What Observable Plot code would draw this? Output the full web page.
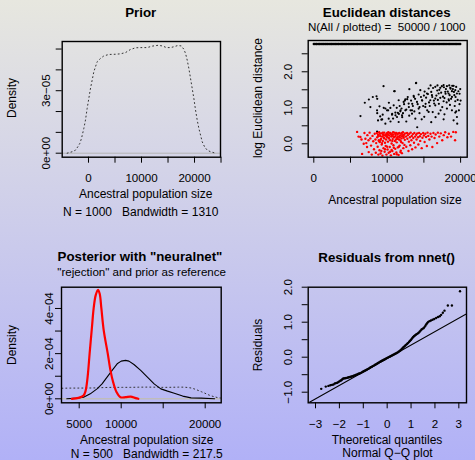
<!DOCTYPE html>
<html><head><meta charset="utf-8">
<script src="https://cdn.jsdelivr.net/npm/d3@7"></script>
<script src="https://cdn.jsdelivr.net/npm/@observablehq/plot@0.6"></script>
<style>
html,body{margin:0;padding:0;}
#chart{position:relative;width:475px;height:460px;overflow:hidden;background:linear-gradient(to bottom,#e7e7df,#b1b1f7);font-family:"Liberation Sans",Arial,sans-serif;color:#000;}
.panel{position:absolute;}
.panel svg{background:transparent !important;overflow:visible;}
.t{position:absolute;white-space:pre;transform:translate(-50%,-50%);line-height:1;}
.r{transform:translate(-50%,-50%) rotate(-90deg);}
.b{font-weight:bold;font-size:13.3px;}
.n{font-size:12px;}
.s{font-size:11.6px;}
</style></head><body><div id="chart"></div>
<script>
// ---------- Panel 1: Prior density ----------
const priorX = [-4025,-3082,-2453,-2013,-1635,-1321,-881,-566,-252,63,377,692,1006,1321,1635,2264,2893,3837,5095,6038,6982,7925,8869,10127,11071,12014,13147,13901,14719,15473,16102,16857,17487,17989,18304,18618,18932,19247,19562,19876,20191,20505,20820,21134,21449,21889,22393,23021,23965];
const priorY = [0,0.07e-5,0.146e-5,0.31e-5,0.47e-5,0.71e-5,1.19e-5,1.59e-5,2.15e-5,2.63e-5,3.11e-5,3.51e-5,3.91e-5,4.15e-5,4.39e-5,4.55e-5,4.67e-5,4.74e-5,4.75e-5,4.77e-5,4.83e-5,4.98e-5,5.06e-5,5.07e-5,5.07e-5,5.14e-5,5.18e-5,5.15e-5,5.07e-5,5.07e-5,5.11e-5,5.17e-5,5.15e-5,4.99e-5,4.79e-5,4.47e-5,4.07e-5,3.59e-5,3.11e-5,2.63e-5,2.07e-5,1.59e-5,1.19e-5,0.87e-5,0.55e-5,0.31e-5,0.146e-5,0.07e-5,0];
const p1XTicks = [0,5000,10000,15000,20000,25000];
const p1XLabels = ["0","","10000","","20000",""];
const p1YTicks = [0,1e-5,2e-5,3e-5,4e-5,5e-5];
const p1YLabels = ["0e+00","","","3e\u221205","",""];

// ---------- Panel 2: Euclidean distances ----------
const topRowY = 2.77;
const topRowX = [0,150,310,420,600,760,880,1050,1200,1330,1500,1640,1790,1920,2080,2230,2400,2520,2690,2850,2980,3140,3300,3420,3590,3760,3900,4030,4200,4350,4480,4660,4800,4950,5090,5240,5400,5530,5700,5850,5980,6150,6300,6440,6600,6740,6900,7050,7190,7340,7500,7650,7780,7950,8100,8240,8400,8550,8690,8850,9000,9140,9300,9450,9590,9750,9900,10040,10200,10350,10490,10650,10800,10940,11100,11250,11390,11550,11700,11840,12000,12150,12290,12450,12600,12740,12900,13050,13190,13350,13500,13640,13800,13950,14090,14250,14400,14540,14700,14850,14990,15150,15300,15440,15600,15750,15890,16050,16200,16340,16500,16650,16790,16950,17100,17240,17400,17550,17690,17850,18000,18140,18300,18450,18590,18750,18900,19040,19200,19350,19490,19650,19800,19950];
const blackPts = [[6360,0.77],[6950,1.14],[7500,1.23],[8040,1.30],[8545,1.32],[8640,1.25],[9500,1.60],[8950,1.04],[8640,0.85],[9045,0.76],[9320,0.68],[10230,1.14],[10130,0.93],[10950,1.46],[10680,0.83],[11130,0.79],[11590,0.83],[11820,0.93],[12045,0.74],[12410,1.20],[12730,1.24],[12950,1.02],[13950,1.69],[13640,1.30],[13410,1.11],[13180,0.93],[14090,0.46],[14410,1.02],[14770,1.20],[15000,1.34],[15230,1.11],[15450,0.93],[15910,1.62],[16140,1.30],[16360,1.20],[16590,0.74],[16820,1.48],[17040,1.11],[17270,0.93],[17730,1.57],[17950,1.39],[18410,1.20],[18640,1.53],[18860,1.61],[19090,1.44],[19320,1.30],[19540,0.56],[19770,0.93],[19860,1.39],[20000,1.20],
[7710,1.02],[9524,1.00],[9751,0.98],[8617,0.93],[9388,0.81],[8753,0.65],[9207,0.67],[9751,0.56],[8617,0.34],
[13922,1.685],[11020,1.462],[13016,1.518],[14512,1.49],[15646,1.536],[16553,1.583],[17233,1.555],[17687,1.63],[18140,1.60],[18594,1.555],[19047,1.61],[19274,1.49],[17913,1.443],[18367,1.397],[18820,1.462],[19500,1.397],[17006,1.397],[16099,1.35],[15419,1.397],[14285,1.369],[13605,1.331],[12471,1.238],[11564,1.21],[12245,1.164],[12925,1.117],[14058,1.164],[14739,1.21],[15873,1.21],[16553,1.257],[17233,1.276],[17687,1.182],[18367,1.238],[18820,1.303],[19274,1.182],[16553,1.07],[15192,1.024],[14285,0.978],[13378,0.931],[12471,0.931],[11791,0.903],[11111,0.866],[10431,0.996],[10657,0.81],[11337,0.745],[12018,0.791],[13378,0.838],[15646,0.884],[17006,0.838],[18140,0.978],[18820,0.931],[19274,0.866],[19500,0.745],[19047,0.652],[17687,0.68],[13832,0.698],[11564,0.605],[10204,0.698],[9977,0.931],[10884,1.07],
[15100,1.45],[15300,1.28],[15550,1.38],[15700,1.15],[15800,1.05],[16000,1.44],[16250,1.55],[16400,1.12],[16700,1.34],[16900,1.22],[17100,1.5],[17350,1.42],[17500,1.02],[17600,1.31],[17800,1.27],[18000,1.52],[18100,1.15],[18250,1.45],[18500,1.35],[18550,1.08],[18700,1.25],[18950,1.52],[19150,1.35],[19200,1.05],[19400,1.58],[19600,1.22],[19700,1.46],[19850,1.1],[19950,1.52],[18450,1.62],[17450,1.6],[16850,1.62],
[11300,1.0],[11450,0.86],[11700,1.05],[11950,0.98],[12150,0.85],[12300,1.1],[12600,0.95],[12800,1.3],[13000,0.78],[13250,1.2],[13500,1.05],[13700,0.9],[13800,1.25],[14150,1.1],[14400,0.85],[14600,1.3],[14900,1.05],[15050,0.75],[10800,0.7],[10450,0.62],[12600,0.62],[16200,0.88],[17800,0.82],[19400,0.9],[14700,0.68],[16000,0.6]];
const redPts = [[5900,0.33],[6100,0.2],[6350,0.19],[6500,0.12],[6580,-0.28],[6800,0.0],[6900,0.3],[7030,0.14],[7150,0.02],[7256,-0.09],[7300,0.24],[7450,0.1],[7483,-0.23],[7600,0.31],[7700,0.15],[7800,-0.05],[7900,-0.3],[8000,0.22],[8100,0.07],[8200,-0.15],[8300,0.28],[8400,0.12],[8450,-0.25],[8500,0.02],
[8600,0.3],[8650,0.18],[8700,-0.08],[8750,0.25],[8800,-0.3],[8850,0.1],[8900,0.32],[8950,-0.18],[9000,0.05],[9050,0.22],[9100,-0.27],[9150,0.14],[9200,0.29],[9250,-0.02],[9300,0.2],[9350,-0.33],[9400,0.08],[9450,0.26],[9500,-0.12],[9550,0.17],[9600,0.31],[9650,-0.22],[9700,0.03],[9750,0.24],[9800,-0.06],[9850,0.12],[9900,-0.3],[9950,0.28],[10000,0.19],[10050,-0.16],[10100,0.06],[10150,0.32],[10200,-0.25],[10250,0.15],[10300,0.23],[10350,-0.09],[10400,0.1],[10450,0.3],[10500,-0.32],[10550,0.2],[10600,0.01],[10650,0.27],[10700,-0.2],[10750,0.13],[10800,0.25],[10850,-0.04],[10900,0.18],[10950,-0.28],[11000,0.31],[11050,0.08],[11100,-0.14],[11150,0.22],[11200,0.29],[11250,-0.24],[11300,0.04],[11350,0.16],[11400,0.26],[11450,-0.1],[11500,0.2],[11550,-0.31],[11600,0.12],[11650,0.3],[11700,-0.05],[11750,0.23],[11800,0.09],[11850,-0.19],[11900,0.28],[11950,0.15],[12000,-0.26],[12050,0.21],[12100,0.02],[12150,0.32],[12200,-0.12],[12250,0.17],[12300,0.25],[12350,-0.03],[12400,0.11],[12450,0.29],
[8800,0.22],[9000,0.28],[9100,0.11],[9300,0.02],[9400,0.31],[9600,0.15],[9700,-0.15],[9900,0.21],[10000,-0.08],[10100,0.25],[10200,0.16],[10400,-0.22],[10500,0.27],[10700,0.08],[10800,0.32],[10900,-0.11],[11000,0.19],[11100,0.27],[11300,-0.29],[11400,0.14],[11500,0.29],[11700,0.18],[11800,-0.23],[11900,0.05],[12000,0.3],[12200,0.2],[9200,-0.2],[9800,0.26],[10300,0.3],[10600,-0.17],[11200,0.12],[11600,-0.08],[12100,0.24],[8900,0.07],[9500,0.23],[10000,0.3],[10650,0.22],[11250,0.3],
[12550,0.2],[12600,-0.08],[12700,0.3],[12750,0.14],[12800,0.24],[12900,-0.2],[12950,0.06],[13000,0.28],[13100,0.18],[13150,-0.04],[13200,0.31],[13300,0.1],[13350,0.22],[13400,-0.15],[13500,0.27],[13550,0.16],[13650,0.03],[13700,0.3],[13800,0.2],[13850,-0.1],[13950,0.25],[14000,0.12],[14100,0.29],[14200,0.18],[14250,-0.02],[14350,0.3],[14450,0.21],[14500,0.08],[14600,0.27],[14700,-0.12],[14800,0.17],[14900,0.3],[15000,0.23],[15100,0.05],[15200,0.28],[15300,0.19],[15400,-0.06],[15500,0.31],
[15600,0.22],[15750,0.12],[15900,0.28],[16050,0.2],[16150,-0.09],[16300,0.3],[16450,0.16],[16600,0.26],[16800,0.02],[16900,0.31],[17100,0.2],[17300,0.29],[17500,0.1],[17700,0.24],[17900,0.32],[18200,0.18],[18400,0.28],[18700,0.2],[19000,0.33],[19250,0.1],[19350,0.32]];
const p2XTicks = [0,5000,10000,15000,20000];
const p2XLabels = ["0","","10000","","20000"];
const p2YTicks = [0,0.5,1,1.5,2,2.5];
const p2YLabels = ["0.0","","1.0","","2.0",""];

// ---------- Panel 3: Posterior ----------
const nnetX = [4120,4920,5520,5760,6000,6240,6520,6720,6960,7240,7440,7640,7920,8400,8720,9040,9440,9920,10520,11120,11720,12040];
const nnetY = [0,0.04e-4,0.15e-4,0.35e-4,0.96e-4,2.0e-4,3.18e-4,4.0e-4,4.58e-4,4.83e-4,4.65e-4,4.0e-4,3.03e-4,2.0e-4,1.26e-4,0.74e-4,0.3e-4,0.07e-4,0.07e-4,0.1e-4,0.03e-4,0];
const rejX = [3520,4720,5520,6320,7120,7720,8320,8920,9520,10000,10520,10920,11520,12320,13120,13920,14720,15520,16320,17320,18320,19520,21120];
const rejY = [0,0.03e-4,0.07e-4,0.22e-4,0.44e-4,0.66e-4,0.96e-4,1.26e-4,1.55e-4,1.67e-4,1.70e-4,1.67e-4,1.52e-4,1.26e-4,0.96e-4,0.66e-4,0.44e-4,0.34e-4,0.25e-4,0.12e-4,0.04e-4,0.03e-4,0];
const p3XTicks = [5000,10000,15000,20000];
const p3XLabels = ["5000","10000","","20000"];
const p3YTicks = [0,1e-4,2e-4,3e-4,4e-4];
const p3YLabels = ["0e+00","","2e\u221204","","4e\u221204"];

// ---------- Panel 4: Residuals Q-Q ----------
const qqPts = [[-2.76,-0.905],[-2.57,-0.84],[-2.46,-0.82],[-2.38,-0.80],[-2.31,-0.79],[-2.25,-0.78],[-2.19,-0.75],[-2.14,-0.74],[-2.09,-0.73],[-2.04,-0.71],[-2.0,-0.69],[-1.96,-0.67],[-1.92,-0.66],[-1.88,-0.63],[-1.84,-0.61],[-1.80,-0.605],[-1.76,-0.60],[-1.72,-0.595],[-1.68,-0.59],[-1.64,-0.58],[-1.60,-0.575],[-1.56,-0.565],[-1.52,-0.56],[-1.48,-0.55],[-1.44,-0.54],[-1.40,-0.53],[-1.36,-0.52],[-1.32,-0.51],[-1.28,-0.50],[-1.24,-0.485],[-1.20,-0.475],[-1.16,-0.465],[-1.12,-0.455],[-1.08,-0.44],[-1.04,-0.425],[-1.00,-0.41],[-0.96,-0.395],[-0.92,-0.38],[-0.88,-0.365],[-0.84,-0.35],[-0.80,-0.335],[-0.76,-0.32],[-0.72,-0.30],[-0.68,-0.285],[-0.64,-0.27],[-0.60,-0.255],[-0.56,-0.24],[-0.52,-0.225],[-0.48,-0.21],[-0.44,-0.19],[-0.40,-0.175],[-0.36,-0.155],[-0.32,-0.14],[-0.28,-0.125],[-0.24,-0.11],[-0.20,-0.095],[-0.16,-0.08],[-0.12,-0.065],[-0.08,-0.05],[-0.04,-0.035],[0,-0.02],[0.04,-0.006],[0.08,0.008],[0.12,0.022],[0.16,0.035],[0.20,0.05],[0.24,0.064],[0.28,0.078],[0.32,0.092],[0.36,0.106],[0.40,0.12],[0.44,0.137],[0.48,0.156],[0.52,0.178],[0.56,0.2],[0.60,0.225],[0.64,0.255],[0.68,0.284],[0.72,0.31],[0.76,0.335],[0.80,0.36],[0.84,0.385],[0.88,0.41],[0.92,0.44],[0.96,0.47],[1.00,0.50],[1.04,0.535],[1.08,0.57],[1.12,0.60],[1.16,0.62],[1.20,0.64],[1.24,0.66],[1.28,0.68],[1.32,0.70],[1.36,0.73],[1.40,0.76],[1.44,0.79],[1.48,0.81],[1.52,0.83],[1.56,0.86],[1.60,0.90],[1.64,0.94],[1.68,0.98],[1.72,1.01],[1.77,1.03],[1.83,1.05],[1.90,1.07],[1.97,1.09],[2.05,1.12],[2.13,1.15],[2.20,1.17],[2.26,1.21],[2.33,1.27],[2.40,1.33],[2.54,1.475],[2.71,1.475],[3.05,1.885]];
const qqIntercept = -0.037;
const qqSlope = 0.384;
const qqLineX = [-3.4, 3.4];
const p4XTicks = [-3,-2,-1,0,1,2,3];
const p4XLabels = ["\u22123","\u22122","\u22121","0","1","2","3"];
const p4YTicks = [-1,-0.5,0,0.5,1,1.5,2];
const p4YLabels = ["\u22121.0","","0.0","","1.0","","2.0"];

// ---------- helpers ----------
const FONT = '"Liberation Sans", Arial, sans-serif';
const chart = document.getElementById("chart");
const lab = (ticks, labels) => d => labels[ticks.indexOf(d)];
function axes(xt, xl, yt, yl, xpad, ypad) {
  return [
    Plot.axisX(xt, {tickSize: 6, tickPadding: xpad, tickFormat: lab(xt, xl), fontSize: 11.6, label: null}),
    Plot.axisY(yt, {tickSize: 6, tickPadding: ypad, tickRotate: -90, textAnchor: "middle", tickFormat: lab(yt, yl), fontSize: 11.6, label: null})
  ];
}
function place(svg, left, top) {
  const d = document.createElement("div");
  d.className = "panel";
  d.style.left = left + "px"; d.style.top = top + "px";
  d.appendChild(svg);
  chart.appendChild(d);
}
function text(str, x, y, cls) {
  const d = document.createElement("div");
  d.className = "t " + cls;
  d.style.left = x + "px"; d.style.top = y + "px";
  d.textContent = str;
  chart.appendChild(d);
}
const style = {background: "transparent", fontFamily: FONT, fontSize: "11.6px", color: "black", overflow: "visible"};
const prior = priorX.map((x, i) => ({x, y: priorY[i]}));

// Panel 1
place(Plot.plot({
  width: 237, height: 230, marginLeft: 61.7, marginRight: 17, marginTop: 41, marginBottom: 73.3,
  x: {domain: [-4960, 24900], axis: null}, y: {domain: [-0.192e-5, 5.362e-5], axis: null},
  style,
  marks: [
    Plot.ruleY([0], {stroke: "#b4b4b4"}),
    Plot.line(prior, {x: "x", y: "y", stroke: "#333", strokeWidth: 1, strokeDasharray: "1,3", clip: true}),
    Plot.frame({stroke: "black", strokeWidth: 1.4}),
    ...axes(p1XTicks, p1XLabels, p1YTicks, p1YLabels, 11, 6)
  ]
}), 0, 0);

// Panel 2
place(Plot.plot({
  width: 238, height: 230, marginLeft: 70.7, marginRight: 8.3, marginTop: 40, marginBottom: 73.3,
  x: {domain: [-763, 20900], axis: null}, y: {domain: [-0.372, 2.869], axis: null},
  style,
  marks: [
    Plot.dot(topRowX, {x: d => d, y: () => topRowY, r: 1.2, fill: "black", stroke: "none", clip: true}),
    Plot.dot(blackPts, {x: d => d[0], y: d => d[1], r: 1.1, fill: "black", stroke: "none", clip: true}),
    Plot.dot(redPts, {x: d => d[0], y: d => d[1], r: 1.2, fill: "#ff0000", stroke: "none", clip: true}),
    Plot.frame({stroke: "black", strokeWidth: 1.4}),
    ...axes(p2XTicks, p2XLabels, p2YTicks, p2YLabels, 11, 10)
  ]
}), 237, 0);

// Panel 3
place(Plot.plot({
  width: 237, height: 230, marginLeft: 61, marginRight: 16.3, marginTop: 56.7, marginBottom: 57.7,
  x: {domain: [2893, 21905], axis: null}, y: {domain: [-0.177e-4, 4.942e-4], axis: null},
  style,
  marks: [
    Plot.ruleY([0], {stroke: "#c4bea2"}),
    Plot.line(prior, {x: "x", y: "y", stroke: "#333", strokeWidth: 1, strokeDasharray: "1,3", clip: true}),
    Plot.line(rejX.map((x, i) => ({x, y: rejY[i]})), {x: "x", y: "y", stroke: "black", strokeWidth: 1.1, clip: true}),
    Plot.line(nnetX.map((x, i) => ({x, y: nnetY[i]})), {x: "x", y: "y", stroke: "#ff0000", strokeWidth: 2.2, curve: "catmull-rom", clip: true}),
    Plot.frame({stroke: "black", strokeWidth: 1.4}),
    ...axes(p3XTicks, p3XLabels, p3YTicks, p3YLabels, 11, 3)
  ]
}), 0, 230);

// Panel 4
place(Plot.plot({
  width: 238, height: 230, marginLeft: 70.7, marginRight: 9, marginTop: 56.7, marginBottom: 57.7,
  x: {domain: [-3.306, 3.321], axis: null}, y: {domain: [-1.303, 2.0], axis: null},
  style,
  marks: [
    Plot.line(qqLineX, {x: d => d, y: d => qqIntercept + qqSlope * d, stroke: "black", strokeWidth: 1.2, clip: true}),
    Plot.dot(qqPts, {x: d => d[0], y: d => d[1], r: 1.2, fill: "black", stroke: "none", clip: true}),
    Plot.frame({stroke: "black", strokeWidth: 1.4}),
    ...axes(p4XTicks, p4XLabels, p4YTicks, p4YLabels, 11, 10)
  ]
}), 237, 230);

// Titles and labels
text("Prior", 140.7, 12.7, "b");
text("Density", 12.3, 98.3, "n r");
text("Ancestral population size", 145.7, 194, "n");
text("N = 1000   Bandwidth = 1310", 140.7, 212.3, "n");

text("Euclidean distances", 386.7, 12.7, "b");
text("N(All / plotted) =  50000 / 1000", 386.7, 26.7, "s");
text("log Euclidean distance", 258.3, 98.3, "n r");
text("Ancestral population size", 395, 200, "n");

text("Posterior with \"neuralnet\"", 140, 256.7, "b");
text("\"rejection\" and prior as reference", 141.7, 272.3, "s");
text("Density", 12.3, 345, "n r");
text("Ancestral population size", 146.7, 440, "n");
text("N = 500   Bandwidth = 217.5", 146.7, 454, "n");

text("Residuals from nnet()", 386.7, 258.3, "b");
text("Residuals", 258.3, 345, "n r");
text("Theoretical quantiles", 387, 440, "n");
text("Normal Q\u2212Q plot", 387.5, 452.7, "n");
</script></body></html>
